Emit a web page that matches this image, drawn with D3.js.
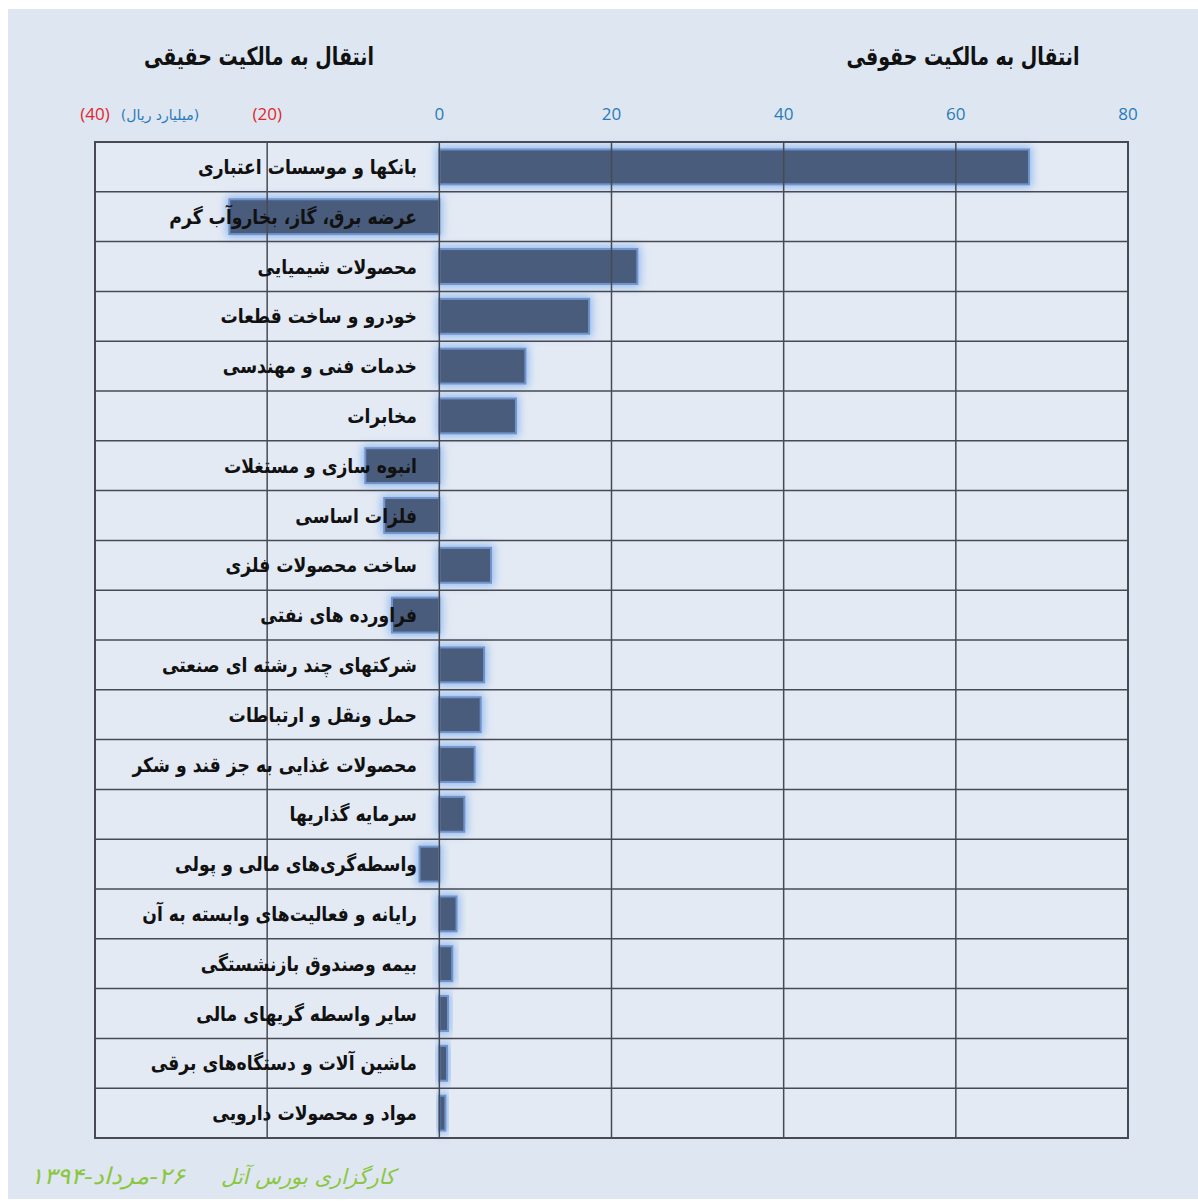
<!DOCTYPE html>
<html>
<head>
<meta charset="utf-8">
<script src="https://cdn.jsdelivr.net/npm/d3@7"></script>
<style>
  body { margin: 0; background: #ffffff; }
  svg text { font-family: "DejaVu Sans", sans-serif; }
</style>
</head>
<body>
<svg id="chart"></svg>
<script>
// categories, top to bottom
var categories = [
  "بانکها و موسسات اعتباری",
  "عرضه برق، گاز، بخاروآب گرم",
  "محصولات شیمیایی",
  "خودرو و ساخت قطعات",
  "خدمات فنی و مهندسی",
  "مخابرات",
  "انبوه سازی و مستغلات",
  "فلزات اساسی",
  "ساخت محصولات فلزی",
  "فراورده های نفتی",
  "شرکتهای چند رشته ای صنعتی",
  "حمل ونقل و ارتباطات",
  "محصولات غذایی به جز قند و شکر",
  "سرمایه گذاریها",
  "واسطه‌گری‌های مالی و پولی",
  "رایانه و فعالیت‌های وابسته به آن",
  "بیمه وصندوق بازنشستگی",
  "سایر واسطه گریهای مالی",
  "ماشین آلات و دستگاه‌های برقی",
  "مواد و محصولات دارویی"
]
// billion rial, negative = to real (individual) ownership
var values = [68.5, -24.4, 23.0, 17.4, 10.0, 8.9, -8.6, -6.4, 6.0, -5.5,
              5.2, 4.8, 4.1, 2.9, -2.3, 2.0, 1.5, 1.0, 0.9, 0.7]
var tickValues = [-40, -20, 0, 20, 40, 60, 80]
var tickLabels = ["(40)", "(20)", "0", "20", "40", "60", "80"]

var width = 1198, height = 1204
var svg = d3.select("#chart").attr("width", width).attr("height", height)

// glow for bars
var defs = svg.append("defs")
var f = defs.append("filter").attr("id", "glow")
  .attr("x", "-50%").attr("y", "-50%").attr("width", "200%").attr("height", "200%")
f.append("feMorphology").attr("in", "SourceAlpha").attr("operator", "dilate").attr("radius", 2).attr("result", "dil")
f.append("feGaussianBlur").attr("in", "dil").attr("stdDeviation", 4).attr("result", "blur")
f.append("feFlood").attr("flood-color", "#8db6ee").attr("flood-opacity", 0.95).attr("result", "col")
f.append("feComposite").attr("in", "col").attr("in2", "blur").attr("operator", "in").attr("result", "shadow")
var m = f.append("feMerge")
m.append("feMergeNode").attr("in", "shadow")
m.append("feMergeNode").attr("in", "SourceGraphic")

// panel background
svg.append("rect").attr("x", 8).attr("y", 9).attr("width", width - 8).attr("height", 1190)
  .style("fill", "#dde6f1")
svg.append("rect").attr("x", 95).attr("y", 142).attr("width", 1033).attr("height", 996)
  .style("fill", "#e3eaf4")

var xScale = d3.scaleLinear().domain([-40, 80]).range([95, 1128])
var yScale = d3.scaleBand().domain(categories).range([142, 1138]).paddingInner(0.3).paddingOuter(0.15)
var rowScale = d3.scaleBand().domain(categories).range([142, 1138])

// bars
svg.selectAll(".bar")
  .data(values)
  .enter()
  .append("rect")
  .attr("class", "bar")
  .attr("x", function(d) { return xScale(Math.min(0, d)) })
  .attr("y", function(d, i) { return yScale(categories[i]) })
  .attr("width", function(d) { return Math.abs(xScale(d) - xScale(0)) })
  .attr("height", yScale.bandwidth())
  .style("fill", "#4a5b7b")
  .style("stroke", "#6f93cc")
  .style("stroke-width", 2)
  .attr("filter", "url(#glow)")

// grid
svg.selectAll(".vgrid")
  .data(tickValues)
  .enter()
  .append("line")
  .attr("x1", function(d) { return xScale(d) })
  .attr("x2", function(d) { return xScale(d) })
  .attr("y1", 142).attr("y2", 1138)
  .style("stroke", "#474a52").style("stroke-width", 1.5)

svg.selectAll(".hgrid")
  .data(categories.slice(1))
  .enter()
  .append("line")
  .attr("x1", 95).attr("x2", 1128)
  .attr("y1", function(d) { return rowScale(d) })
  .attr("y2", function(d) { return rowScale(d) })
  .style("stroke", "#474a52").style("stroke-width", 1.5)

svg.append("rect").attr("x", 95).attr("y", 142).attr("width", 1033).attr("height", 996)
  .style("fill", "none").style("stroke", "#474a52").style("stroke-width", 2)

// tick labels on top
svg.selectAll(".tick-label")
  .data(tickValues)
  .enter()
  .append("text")
  .attr("x", function(d) { return xScale(d) })
  .attr("y", 120)
  .attr("text-anchor", "middle")
  .style("font-family", "'Open Sans', sans-serif")
  .style("font-size", "17px")
  .style("fill", function(d) { return d < 0 ? "#e0262b" : "#2a7ab8" })
  .text(function(d, i) { return tickLabels[i] })

svg.append("text")
  .attr("x", 160).attr("y", 120)
  .attr("text-anchor", "middle")
  .attr("direction", "rtl")
  .style("font-size", "14px")
  .style("fill", "#2a7ab8")
  .text("(میلیارد ریال)")

// category labels (narrowed a little to match the original face)
svg.selectAll(".cat")
  .data(categories)
  .enter()
  .append("text")
  .attr("transform", function(d) {
    return "translate(417," + (rowScale(d) + rowScale.bandwidth() / 2 + 7) + ") scale(0.86,1)"
  })
  .attr("text-anchor", "start")
  .attr("direction", "rtl")
  .style("font-size", "20px")
  .style("font-weight", "bold")
  .style("fill", "#111")
  .text(function(d) { return d })

// titles
svg.append("text").attr("transform", "translate(259,65) scale(0.76,1)").attr("text-anchor", "middle").attr("direction", "rtl")
  .style("font-size", "25px").style("font-weight", "bold").style("fill", "#111")
  .text("انتقال به مالکیت حقیقی")
svg.append("text").attr("transform", "translate(963,65) scale(0.76,1)").attr("text-anchor", "middle").attr("direction", "rtl")
  .style("font-size", "25px").style("font-weight", "bold").style("fill", "#111")
  .text("انتقال به مالکیت حقوقی")

// footer
svg.append("text").attr("x", 395).attr("y", 1184).attr("text-anchor", "start").attr("direction", "rtl")
  .style("font-size", "21px").style("font-style", "italic").style("fill", "#8cc63f")
  .text("کارگزاری بورس آتل")
svg.append("text").attr("x", 185).attr("y", 1184).attr("text-anchor", "start").attr("direction", "rtl")
  .style("font-size", "23px").style("font-style", "italic").style("fill", "#8cc63f")
  .attr("textLength", 155).attr("lengthAdjust", "spacingAndGlyphs")
  .text("۲۶-مرداد-۱۳۹۴")
</script>
</body>
</html>
